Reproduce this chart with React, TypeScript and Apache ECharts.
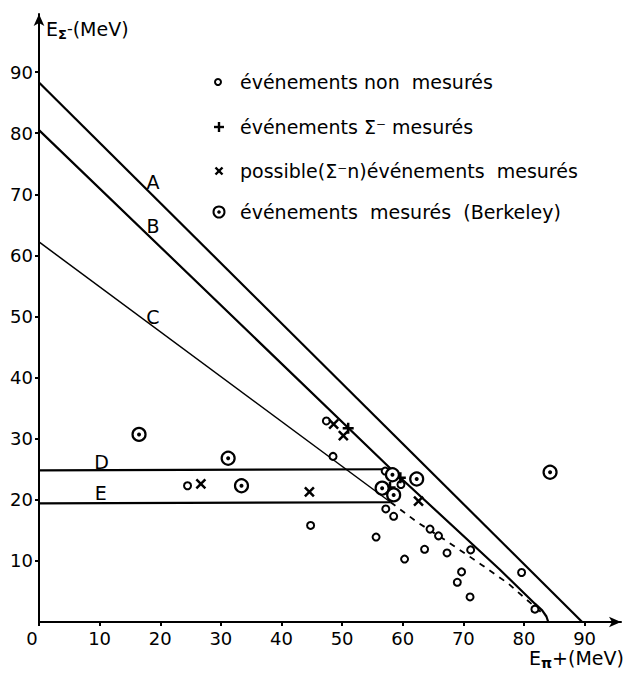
import React, { useEffect, useRef } from 'react';
import * as echarts from 'echarts';

// ---- axis ticks ----
const xTicks = [0, 10, 20, 30, 40, 50, 60, 70, 80, 90];
const yTicks = [10, 20, 30, 40, 50, 60, 70, 80, 90];

// ---- boundary lines ----
const lineA = [[0, 88.3], [89.6, 0]];
const lineB = [[0, 80.5], [58.1, 25.0], [76.0, 8.6], [81.8, 3.0], [83.0, 1.9], [83.7, 0.9], [84.0, 0]];
const lineC = [[0, 62.2], [58.0, 19.6]];
const lineD = [[0, 24.8], [58.1, 25.0]];
const lineE = [[0, 19.4], [58.0, 19.6]];
const lineDashed = [[58.0, 19.6], [62.3, 16.4], [67.0, 13.4], [70.3, 11.2], [73.1, 9.3], [77.4, 6.3], [80.5, 3.6], [83.2, 1.3]];

// ---- line labels ----
const lineNames = ['A', 'B', 'C', 'D', 'E'];
const labelX = [18.8, 18.8, 18.8, 10.3, 10.2];
const labelY = [72.0, 64.8, 49.9, 26.2, 21.1];

// ---- events ----
const nonMesures = [
  [24.5, 22.3], [44.8, 15.8], [47.4, 32.9], [48.5, 27.1], [57.1, 24.7], [59.7, 22.5],
  [57.2, 18.5], [58.5, 17.3], [55.6, 13.9], [60.3, 10.3], [64.5, 15.2], [65.9, 14.1],
  [63.6, 11.9], [67.3, 11.3], [71.2, 11.8], [69.7, 8.2], [69.0, 6.5], [71.1, 4.1],
  [79.6, 8.1], [81.8, 2.1],
];
const sigmaMesures = [[51.0, 31.7], [57.9, 22.0], [59.6, 23.6]];
const possibleSigmaN = [[26.7, 22.6], [44.6, 21.3], [48.6, 32.4], [50.2, 30.5], [62.6, 19.8]];
const berkeley = [
  [16.5, 30.7], [31.2, 26.8], [33.4, 22.3], [58.3, 24.1], [62.3, 23.4],
  [56.6, 21.9], [58.5, 20.8], [84.3, 24.5],
];

// ---- legend texts ----
const legendTexts = [
  'événements non  mesurés',
  'événements Σ⁻ mesurés',
  'possible(Σ⁻n)événements  mesurés',
  'événements  mesurés  (Berkeley)',
];

const FONT = 'DejaVu Sans';
const BLACK = '#000';

function lineSeries(name: string, data: number[][], width: number, dashed = false) {
  return {
    name,
    type: 'line',
    data,
    symbol: 'none',
    silent: true,
    lineStyle: { color: BLACK, width, type: dashed ? [6, 6] : 'solid', opacity: 1 },
    z: 2,
  };
}

export default function App() {
  const ref = useRef<HTMLDivElement>(null);

  useEffect(() => {
    if (!ref.current) return;
    const chart = echarts.init(ref.current, null, { renderer: 'svg' });
    const legendRowsY = [82, 127, 171, 212];
    const legendMarkX = 219;
    const legendTextX = 240;

    const option: any = {
      animation: false,
      backgroundColor: '#fff',
      textStyle: { fontFamily: FONT, color: BLACK },
      grid: { left: 39, right: 3, top: 14, bottom: 51, containLabel: false },
      xAxis: {
        type: 'value',
        min: 0,
        max: 96,
        interval: 10,
        splitLine: { show: false },
        axisLine: {
          show: true,
          onZero: false,
          symbol: ['none', 'arrow'],
          symbolSize: [8, 12],
          lineStyle: { color: BLACK, width: 2 },
        },
        axisTick: { show: true, length: 4, customValues: xTicks, lineStyle: { color: BLACK, width: 2 } },
        axisLabel: {
          customValues: xTicks,
          fontSize: 18,
          fontFamily: FONT,
          color: BLACK,
          margin: 7,
          formatter: (v: number) => (v === 0 ? '{z|0}' : String(v)),
          rich: { z: { fontSize: 18, fontFamily: FONT, color: BLACK, padding: [0, 14, 0, 0] } },
        },
      },
      yAxis: {
        type: 'value',
        min: 0,
        max: 99.5,
        interval: 10,
        splitLine: { show: false },
        axisLine: {
          show: true,
          onZero: false,
          symbol: ['none', 'arrow'],
          symbolSize: [8, 12],
          lineStyle: { color: BLACK, width: 2 },
        },
        axisTick: { show: true, length: 4, customValues: yTicks, lineStyle: { color: BLACK, width: 2 } },
        axisLabel: { customValues: yTicks, fontSize: 18, fontFamily: FONT, color: BLACK, margin: 6 },
      },
      series: [
        lineSeries('A', lineA, 2.2),
        lineSeries('B', lineB, 2.2),
        lineSeries('C', lineC, 1.5),
        lineSeries('D', lineD, 2.2),
        lineSeries('E', lineE, 2.2),
        lineSeries('limite', lineDashed, 1.8, true),
        {
          name: 'labels',
          type: 'scatter',
          silent: true,
          symbolSize: 1,
          itemStyle: { color: 'rgba(255,255,255,0)', opacity: 1 },
          data: lineNames.map((n, i) => ({ name: n, value: [labelX[i], labelY[i]] })),
          label: {
            show: true,
            position: 'inside',
            formatter: '{b}',
            fontSize: 19,
            fontFamily: FONT,
            color: BLACK,
            opacity: 1,
            textBorderWidth: 0,
          },
          z: 3,
        },
        {
          name: legendTexts[0],
          type: 'scatter',
          data: nonMesures,
          symbol: 'circle',
          symbolSize: 7,
          itemStyle: { color: '#fff', borderColor: BLACK, borderWidth: 2, opacity: 1 },
          z: 5,
        },
        {
          name: legendTexts[1],
          type: 'scatter',
          data: sigmaMesures,
          symbol: 'path://M5,0L5,10M0,5L10,5',
          symbolSize: 11,
          itemStyle: { color: 'none', borderColor: BLACK, borderWidth: 2.5, opacity: 1 },
          z: 5,
        },
        {
          name: legendTexts[2],
          type: 'scatter',
          data: possibleSigmaN,
          symbol: 'path://M0,0L10,10M10,0L0,10',
          symbolSize: 9,
          itemStyle: { color: 'none', borderColor: BLACK, borderWidth: 2.5, opacity: 1 },
          z: 5,
        },
        {
          name: legendTexts[3],
          type: 'scatter',
          data: berkeley,
          symbol: 'circle',
          symbolSize: 13,
          itemStyle: { color: '#fff', borderColor: BLACK, borderWidth: 2.2, opacity: 1 },
          z: 5,
        },
        {
          name: 'berkeley-centre',
          type: 'scatter',
          data: berkeley,
          symbol: 'circle',
          symbolSize: 4,
          silent: true,
          itemStyle: { color: BLACK, opacity: 1 },
          z: 6,
        },
      ],
      graphic: [
        // axis titles
        {
          type: 'text',
          left: 46,
          top: 19,
          style: {
            text: '{a|E}{s|Σ}{m|-}{a|(MeV)}',
            rich: {
              a: { fontSize: 19, fontFamily: FONT, fill: BLACK, lineHeight: 24, verticalAlign: 'middle' },
              s: { fontSize: 13, fontFamily: FONT, fontWeight: 'bold', fill: BLACK, lineHeight: 24, verticalAlign: 'bottom' },
              m: { fontSize: 16, fontFamily: FONT, fill: BLACK, lineHeight: 24, verticalAlign: 'middle' },
            },
          },
        },
        {
          type: 'text',
          left: 529,
          top: 648,
          style: {
            text: '{a|E}{s|π}{a|+(MeV)}',
            rich: {
              a: { fontSize: 19, fontFamily: FONT, fill: BLACK, lineHeight: 24, verticalAlign: 'middle' },
              s: { fontSize: 14, fontFamily: FONT, fontWeight: 'bold', fill: BLACK, lineHeight: 24, verticalAlign: 'bottom' },
            },
          },
        },
        // legend markers
        {
          type: 'circle',
          shape: { cx: legendMarkX - 1, cy: legendRowsY[0], r: 3 },
          style: { fill: '#fff', stroke: BLACK, lineWidth: 2 },
        },
        {
          type: 'group',
          children: [
            { type: 'line', shape: { x1: legendMarkX - 5, y1: legendRowsY[1], x2: legendMarkX + 5, y2: legendRowsY[1] }, style: { stroke: BLACK, lineWidth: 2.4 } },
            { type: 'line', shape: { x1: legendMarkX, y1: legendRowsY[1] - 5, x2: legendMarkX, y2: legendRowsY[1] + 5 }, style: { stroke: BLACK, lineWidth: 2.4 } },
          ],
        },
        {
          type: 'group',
          children: [
            { type: 'line', shape: { x1: legendMarkX - 3.5, y1: legendRowsY[2] - 3.5, x2: legendMarkX + 3.5, y2: legendRowsY[2] + 3.5 }, style: { stroke: BLACK, lineWidth: 2.4 } },
            { type: 'line', shape: { x1: legendMarkX + 3.5, y1: legendRowsY[2] - 3.5, x2: legendMarkX - 3.5, y2: legendRowsY[2] + 3.5 }, style: { stroke: BLACK, lineWidth: 2.4 } },
          ],
        },
        {
          type: 'circle',
          shape: { cx: legendMarkX, cy: legendRowsY[3], r: 5.5 },
          style: { fill: '#fff', stroke: BLACK, lineWidth: 2 },
        },
        {
          type: 'circle',
          shape: { cx: legendMarkX, cy: legendRowsY[3], r: 1.8 },
          style: { fill: BLACK },
        },
        ...legendTexts.map((t, i) => ({
          type: 'text',
          x: legendTextX,
          y: legendRowsY[i],
          style: {
            text: t,
            fontSize: 19,
            fontFamily: FONT,
            fill: BLACK,
            verticalAlign: 'middle',
            align: 'left',
          },
        })),
      ],
    };

    chart.setOption(option);
    return () => chart.dispose();
  }, []);

  return (
    <div
      ref={ref}
      style={{ position: 'fixed', left: 0, top: 0, width: 624, height: 673, background: '#fff' }}
    />
  );
}
